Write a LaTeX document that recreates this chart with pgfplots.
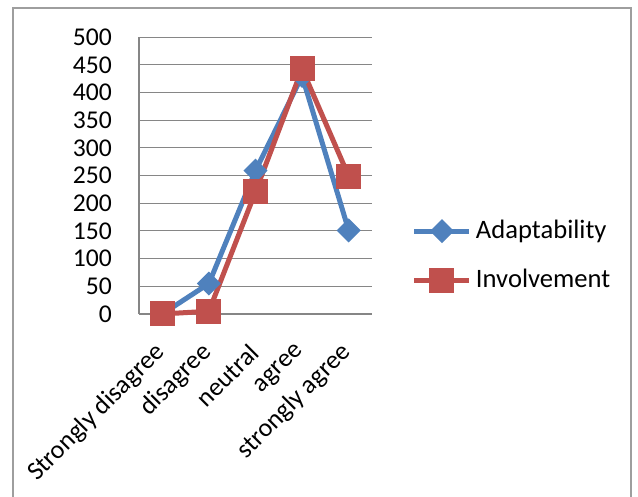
\documentclass[border=0pt]{standalone}
\usepackage{pgfplots}
\pgfplotsset{compat=1.18}
\usepackage{fontspec}
\setmainfont{Carlito}
\definecolor{exblue}{HTML}{4F81BD}
\definecolor{exred}{HTML}{C0504D}
\definecolor{gridgray}{HTML}{868686}
\begin{document}
\fontsize{13.3}{16}\selectfont
\begin{tikzpicture}
\useasboundingbox (0,0) rectangle (319pt,248.5pt);
\draw[gridgray!80, line width=0.8pt] (6.5pt,-2pt) -- (6.5pt,244.5pt) -- (315.5pt,244.5pt) -- (315.5pt,-2pt);
\begin{axis}[
  at={(69.5pt,91.5pt)}, anchor=south west,
  scale only axis, width=116.5pt, height=138.35pt,
  xmin=-0.5, xmax=4.5, ymin=0, ymax=500,
  axis x line=bottom, axis y line=left,
  axis line style={gridgray, line width=0.6pt, -},
  ytick={0,50,...,500},
  ymajorgrids, grid style={gridgray, line width=0.5pt},
  major tick length=0pt,
  xtick={0,1,2,3,4},
  xticklabels={Strongly disagree, disagree, neutral, agree, strongly agree},
  xticklabel style={xshift=2.5pt, yshift=-14pt, rotate=45, anchor=east, font=\fontsize{13}{16}\selectfont},
  yticklabel style={font=\fontsize{12.8}{15}\selectfont, xshift=-9pt},
  /pgf/number format/assume math mode=true,
  legend style={draw=none, at={(1.17,0.21)}, anchor=west, font=\fontsize{13.3}{16}\selectfont, row sep=9.5pt, inner sep=0pt},
  legend cell align=left,
  legend image code/.code={\draw[mark repeat=2,mark phase=2,#1] plot coordinates {(0pt,0pt)(13.75pt,0pt)(27.5pt,0pt)};},
  clip=false,
]
\addplot[exblue, line width=2.5pt, mark=square*, mark size=3pt, mark options={rotate=45, solid}] coordinates {(0,0) (1,55) (2,259) (3,430) (4,151)};
\addlegendentry{Adaptability}
\addplot[exred, line width=2.5pt, mark=square*, mark size=5pt, mark options={solid}] coordinates {(0,0) (1,5) (2,221) (3,443) (4,249)};
\addlegendentry{Involvement}
\end{axis}
\end{tikzpicture}
\end{document}
